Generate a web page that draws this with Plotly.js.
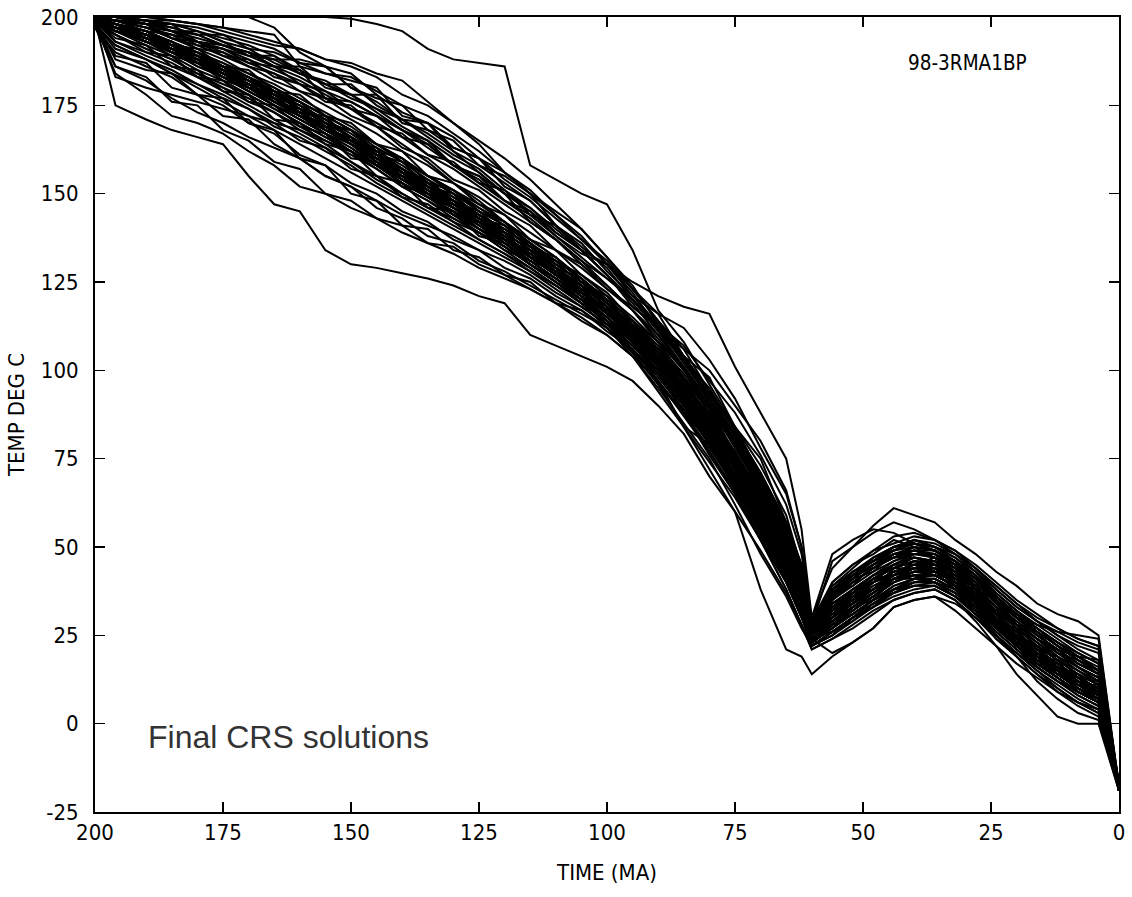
<!DOCTYPE html>
<html>
<head>
<meta charset="utf-8">
<script src="https://cdn.plot.ly/plotly-3.0.1.min.js"></script>
<style>html,body{margin:0;padding:0;background:#fff;}#chart{width:1132px;height:897px;}</style>
</head>
<body>
<div id="chart"></div>
<script>
// time grid (Ma)
const timeMa = [200,196,190,185,180,175,170,165,160,155,150,145,140,135,130,125,120,115,110,105,100,95,90,85,80,75,70,65,62,60,56,52,48,44,40,36,32,28,24,20,16,12,8,4,0];

// temperature paths (deg C)
const r01 = [200,198,195,193,189,186,183,178,175,171,166,162,157,153,148,144,139,134,129,124,118,112,104,96,86,75,63,49,38,26,33,37,41,44,46,45,42,37,31,26,21,17,13,10,-19];
const r02 = [199,196,193,190,186,183,179,175,171,167,163,158,154,149,145,141,136,131,126,121,115,109,101,92,82,71,59,45,34,24,29,33,37,41,43,43,40,35,29,24,19,15,11,8,-18];
const r03 = [198,197,195,191,189,184,182,176,174,168,166,159,156,150,148,141,139,132,129,122,118,110,104,93,85,72,62,46,37,25,32,34,40,42,45,43,42,35,31,24,21,15,13,8,-17];
const r04 = [200,197,194,192,187,185,180,178,172,170,164,161,154,152,146,143,137,134,127,124,116,112,102,95,83,74,60,48,35,26,30,36,38,43,44,45,40,37,29,26,19,17,12,10,-19];
const r05 = [199,198,195,192,188,185,181,177,173,169,165,161,156,151,147,142,137,132,127,122,117,111,104,95,85,73,61,47,37,25,31,35,40,43,45,44,41,36,30,25,20,16,12,9,-18];
const r06 = [200,199,197,194,191,188,184,181,177,173,169,164,159,155,150,146,141,136,131,126,120,114,106,98,88,77,65,51,39,27,35,39,43,46,48,47,43,38,32,27,22,18,14,11,-19];
const r07 = [198,195,191,188,184,181,178,174,170,166,162,157,152,148,144,139,135,130,125,120,114,108,99,90,80,69,57,43,33,23,28,32,36,40,42,42,39,34,28,23,18,14,10,7,-17];
const r08 = [199,196,194,190,188,183,181,176,173,168,164,160,155,150,147,142,138,132,128,122,117,110,103,93,84,72,60,46,36,25,30,35,38,42,44,43,40,36,29,24,20,15,12,8,-18];
const r09 = [200,198,196,193,190,186,182,179,175,171,167,162,158,153,149,144,140,135,130,125,119,113,105,97,87,76,63,50,38,26,34,38,42,45,47,46,42,37,31,26,21,17,13,10,-18];
const r10 = [199,197,193,191,187,184,180,177,172,169,164,160,155,151,146,142,137,133,127,123,116,110,102,93,83,72,60,46,35,24,30,34,38,42,44,44,40,35,30,24,19,16,11,9,-19];
const r11 = [200,199,198,196,194,192,189,186,183,179,176,172,168,163,158,153,148,143,137,131,124,117,109,100,90,79,67,53,40,28,38,42,46,49,51,49,45,40,34,28,23,19,15,12,-19];
const r12 = [200,200,199,198,197,195,193,191,187,186,180,177,175,168,163,160,152,148,141,134,127,118,112,103,92,81,68,55,42,27,40,45,48,52,50,49,46,41,35,30,25,21,17,14,-18];
const r13 = [200,200,200,200,200,200,200,200,200,200,199.5,198,196,191,188,187,186,158,154,150,147,134,117,108,96,84,70,56,41,26,36,41,47,50,52,50,47,43,37,32,27,23,19,15,-19];
const r14 = [200,200,200,200,200,200,200,197,190,186,184,178,173,170,162,156,150,142,137,130,124,117,110,101,91,80,69,54,40,27,37,43,46,48,49,47,44,39,33,28,24,20,16,13,-18];
const r15 = [199,199,198,196,195,192,190,186,185,177,176,172,168,164,158,155,148,145,138,133,130,125,121,118,116,101,88,75,55,30,44,50,56,61,59,57,52,48,43,39,34,31,29,25,-18];
const r16 = [198,192,188,184,180,176,172,168,164,160,156,152,148,144,140,136,132,128,123,118,113,107,100,91,81,70,58,44,33,23,27,31,35,38,40,40,37,32,27,22,17,13,9,6,-17];
const r17 = [197,190,186,183,178,175,170,167,161,158,153,150,145,142,137,134,129,126,121,117,111,106,98,89,79,67,55,41,31,22,26,29,34,37,39,39,36,31,25,20,15,11,7,4,-16];
const r18 = [199,175,171,168,166,164,155,147,145,134,130,129,127.5,126,124,121,119,110,107,104,101,97,90,82,70,60,38,21,19,14,19,23,27,33,35,36,32,27,22,17,13,9,6,4,-17];
const r19 = [199,186,182,177,173,170,166,163,160,155,152,148,144,141,138,134,131,127,122,118,113,106,97,84,74,64,52,38,28,21,24,28,32,35,37,38,35,29,22,14,8,2,0,0,-19];
const r20 = [198,184,178,172,170,167,162,158,152,150,146,143,139,136,133,129,126,123,119,115,110,104,95,85,75,62,48,36,27,22,26,30,33,36,38,39,36,31,26,21,16,12,9,6,-18];
const r21 = [199,193,189,186,183,180,176,173,168,164,159,155,150,146,143,139,134,129,124,119,114,105,96,88,76,65,52,40,30,24,28,31,35,38,41,41,38,32,24,19,12,7,3,1,-19];
const r22 = [200,198,196,192,189,186,183,179,176,172,168,163,159,154,150,145,141,136,131,127,121,115,108,100,92,82,70,57,45,28,36,40,44,47,49,48,44,39,33,28,24,21,19,18,-17];
const r23 = [200,197,195,193,189,186,182,179,174,171,166,162,157,153,148,144,140,135,129,124,119,113,106,98,89,79,67,53,42,27,34,38,42,46,48,48,45,41,36,31,28,26,25,24,-18];
const r24 = [199,196,192,189,185,182,178,174,170,166,162,158,153,149,145,140,135,130,125,120,113,105,96,84,79,68,55,41,32,24,29,33,37,41,43,42,39,34,28,23,19,14,10,7,-18];
const r25 = [200,199,196,195,191,190,186,184,179,177,172,169,163,160,154,151,145,141,134,130,123,117,108,101,89,80,66,54,40,28,37,41,45,47,47,46,43,39,33,29,25,21,16,13,-18];
const r26 = [200,200,199,198,196,194,192,189,185,181,178,173,168,165,158,154,148,144,138,132,126,120,111,103,93,84,70,55,42,28,38,43,46,49,51,50,47,42,36,31,26,22,18,15,-19];
const r27 = [199,193,190,187,183,179,175,171,167,163,159,154,150,146,142,137,133,128,124,119,114,108,101,92,82,70,58,44,33,23,28,32,36,40,42,42,39,33,27,22,18,13,9,6,-18];
const r28 = [199,197,194,191,188,184,181,177,173,169,165,160,156,151,147,143,138,133,128,123,117,111,103,94,84,73,61,47,36,25,31,35,39,42,44,44,41,36,30,25,20,16,12,9,-18];
const r29 = [200,198,195,192,189,186,182,178,174,170,166,161,157,152,148,144,139,134,129,124,118,112,104,95,85,74,62,48,37,26,32,37,41,44,46,45,42,37,31,26,21,17,13,10,-19];
const r30 = [199,196,193,190,187,183,180,176,172,168,164,159,154,150,146,141,137,132,127,122,116,110,102,93,83,72,60,46,35,24,30,34,38,41,43,43,40,35,29,24,19,15,11,8,-18];
const r31 = [200,198,196,193,190,187,184,180,176,172,168,164,160,155,151,146,142,137,132,126,120,114,106,97,87,76,64,50,40,30,48,52,55,54,51,49,46,42,37,32,28,24,20,17,-18];
const r32 = [199,196,194,190,187,184,180,176,172,168,164,160,155,151,146,142,137,132,127,122,116,110,102,93,82,70,58,44,34,24,20,23,27,33,35,36,34,30,25,20,16,12,9,6,-18];
const r33 = [200,200,198,197,195,192,190,188,184,182,178,174,171,166,161,157,151,146,140,134,127,119,110,100,90,78,66,52,40,27,35,40,44,47,49,48,44,40,34,29,24,20,16,13,-18];
const r34 = [200,199,199,196,196,193,189,189,184,181,181,175,171,170,163,160,156,150,145,140,132,124,113,103,95,83,71,57,44,29,37,39,45,47,50,47,45,38,35,28,26,20,18,14,-19];
const r35 = [199,194,192,186,185,179,178,171,170,164,162,155,153,146,145,138,136,130,126,120,117,108,103,91,83,69,60,43,33,23,27,33,35,41,41,43,38,35,27,24,17,15,9,7,-17];
const r36 = [198,189,187,180,178,172,171,164,160,155,152,146,143,138,136,131,128,124,120,116,112,105,99,88,80,66,56,40,30,22,25,30,33,38,39,40,36,32,26,21,16,12,8,5,-17];
const r37 = [200,196,195,190,189,184,183,177,175,169,168,161,159,152,150,143,141,134,131,124,120,112,106,95,88,74,65,48,39,25,33,35,41,42,46,44,43,36,32,25,22,16,14,9,-19];
const r38 = [199,198,194,193,187,186,180,179,173,172,165,163,156,154,148,145,139,136,129,126,119,113,104,98,85,77,62,51,37,27,30,37,38,44,44,46,40,38,29,27,19,18,11,11,-18];
const r39 = [200,199,197,195,193,190,187,184,181,177,174,170,166,161,157,152,147,142,137,131,126,120,113,107,97,88,76,62,48,29,38,42,47,49,52,50,48,43,38,33,29,25,22,20,-18];
const r40 = [200,200,200,199,198,197,195,193,191,188,186,183,178,175,170,165,160,154,147,140,132,123,114,106,94,84,73,59,44,28,39,44,49,51,53,52,48,44,38,33,29,26,23,21,-17];
const r41 = [198,191,188,184,181,177,174,169,166,162,158,153,149,145,141,137,133,129,124,119,114,107,99,90,79,67,54,41,31,22,26,30,34,38,40,41,38,33,27,22,17,13,9,6,-18];
const r42 = [197,186,183,176,175,168,165,159,157,150,148,143,141,136,135,130,127,123,119,114,110,104,97,87,77,65,52,38,28,21,24,27,31,35,37,38,35,30,24,19,14,10,6,3,-18];
const r43 = [199,197,194,191,188,184,181,177,173,169,165,161,156,152,148,143,139,134,129,124,118,111,101,88,77,66,53,40,30,23,27,32,36,40,43,43,40,35,29,23,18,14,10,6,-19];
const r44 = [200,198,196,193,190,187,183,180,176,172,168,164,160,155,151,147,142,137,132,126,120,114,107,99,90,79,66,52,40,28,46,50,54,57,55,52,49,44,39,34,29,25,21,18,-18];
const r45 = [199,197,194,191,188,185,181,177,173,169,165,160,156,152,147,143,138,133,128,123,117,111,103,94,84,72,59,45,35,24,26,30,34,37,40,40,38,33,28,23,18,14,11,7,-18];
const r46 = [200,199,198,194,193,189,188,183,181,176,175,169,167,161,159,153,151,144,141,134,130,121,116,104,98,84,75,57,45,28,36,42,44,48,49,49,45,41,36,30,27,22,19,15,-19];
const r47 = [199,183,180,178,176,174,172,170,168,165,162,158,154,150,146,142,137,132,127,122,116,110,102,92,81,69,56,42,33,23,29,33,37,41,43,43,40,34,28,22,17,13,9,6,-17];
const r48 = [199,188,185,184,178,177,170,168,160,158,150,148,141,140,134,132,127,125,119,117,112,106,99,90,79,68,55,42,31,22,26,30,35,38,41,41,38,33,27,22,16,12,8,5,-18];
const r49 = [200,198,196,192,191,186,185,179,178,172,170,164,162,155,153,147,144,137,134,127,122,114,108,98,90,76,66,50,40,26,34,37,42,44,47,45,43,38,33,27,23,18,15,11,-19];
const r50 = [199,196,193,189,187,182,180,175,172,167,164,158,155,149,146,140,137,131,128,121,117,109,103,92,84,70,61,45,36,24,29,34,37,42,43,44,39,36,28,25,18,16,10,8,-18];
const r51 = [200,200,200,199,198,197,196,195,186,184,182,180,172,170,166,160,154,149,143,137,130,123,114,104,94,83,71,57,43,28,38,43,46,50,51,50,46,42,36,31,27,23,19,16,-18];
const r52 = [200,200,199,199,198,196,194,192,191,188,187,184,182,176,170,164,156,150,144,137,131,123,116,112,103,92,78,65,50,29,40,45,49,53,54,52,49,45,40,35,31,27,24,22,-18];
const r53 = [199,195,191,188,184,180,177,173,169,165,161,157,152,148,143,139,135,130,125,120,115,108,100,91,80,68,56,43,33,23,27,31,35,39,41,42,39,34,28,23,18,14,10,7,-18];
const r54 = [200,197,194,191,188,185,181,177,173,169,165,161,156,152,147,143,138,133,128,123,117,111,103,94,85,74,62,49,38,26,32,36,41,45,48,48,45,41,36,31,27,23,20,17,-17];
const r55 = [199,197,194,191,188,184,181,177,173,169,165,160,155,151,147,142,138,133,128,123,117,111,103,94,84,73,61,47,36,25,30,34,38,41,42,40,37,31,25,19,14,9,5,2,-18];
const r56 = [200,199,197,196,192,191,187,186,181,179,174,172,166,164,158,155,150,145,139,134,127,120,112,104,94,81,70,55,43,28,35,41,43,48,48,48,43,40,34,30,25,21,17,14,-19];
const r57 = [198,192,188,185,181,178,174,170,165,163,157,155,149,147,142,139,134,131,126,121,116,109,101,92,82,70,58,44,34,23,28,31,35,39,41,40,37,33,27,22,17,13,9,6,-17];
const r58 = [199,197,194,191,188,184,180,176,172,168,164,159,155,150,146,142,137,132,127,121,114,106,97,88,78,67,54,41,31,24,28,33,37,41,44,44,41,36,30,25,20,16,12,9,-18];
const r59 = [200,199,198,196,193,191,188,185,182,178,174,169,164,159,153,148,142,136,130,125,119,112,104,96,86,75,63,49,38,26,33,38,42,45,47,46,43,38,32,27,22,18,14,11,-18];
const r60 = [199,197,195,192,188,185,182,178,174,170,166,161,157,152,148,143,139,134,129,124,118,112,105,96,86,75,62,48,37,25,31,36,40,43,45,45,42,37,31,26,21,17,13,10,-18];
const r61 = [200,200,199,197,195,195,191,190,187,184,183,179,175,172,167,162,156,151,144,138,130,122,112,102,92,80,68,53,41,27,36,41,45,48,50,49,45,40,35,30,25,21,17,14,-18];
const r62 = [200,200,198,198,193,192,190,186,186,180,178,178,170,168,165,158,155,150,141,135,129,120,111,101,91,79,67,52,40,27,35,40,44,47,48,47,44,39,33,28,24,19,16,12,-18];
const r63 = [200,199,197,195,193,191,189,188,188,186,180,176,171,167,162,158,153,148,141,136,128,121,113,104,94,83,70,56,43,28,37,42,46,50,51,49,46,41,36,31,26,22,18,15,-19];
const r64 = [199,195,190,189,183,182,176,175,169,167,160,159,152,150,144,142,136,134,128,124,118,111,103,93,83,70,58,44,34,23,28,33,36,41,42,42,39,34,28,23,18,14,10,7,-18];
const r65 = [200,198,195,192,189,185,182,178,174,170,166,162,157,153,149,144,140,135,130,125,119,113,105,96,87,75,63,49,38,26,33,37,41,44,46,46,42,37,32,27,22,18,14,11,-19];
const r66 = [199,196,193,190,187,183,179,175,171,167,162,158,153,149,145,140,136,131,126,121,115,108,100,91,81,69,57,44,34,24,29,33,37,41,43,43,40,35,29,24,19,15,11,8,-18];
const r67 = [200,199,197,194,192,189,186,182,179,175,171,167,162,158,153,149,144,139,134,129,123,118,112,106,100,90,80,66,50,29,39,43,47,50,52,51,48,44,39,34,30,27,24,22,-18];
const r68 = [199,196,193,190,186,183,179,175,171,167,163,158,153,149,144,140,135,130,125,119,112,104,94,84,72,60,49,37,28,22,25,29,33,37,39,39,36,31,25,20,15,10,6,3,-18];
const r69 = [200,197,196,191,190,185,183,178,176,170,168,162,160,153,151,145,142,135,132,125,121,113,107,97,89,76,65,50,39,26,32,38,40,45,45,47,41,39,31,28,21,19,13,12,-19];
const r70 = [200,200,199,198,196,193,191,187,184,181,177,174,169,165,160,156,150,146,139,134,127,120,112,103,93,82,69,55,42,28,37,42,45,49,50,49,46,41,35,30,26,22,18,15,-18];

const paths = [r01,r02,r03,r04,r05,r06,r07,r08,r09,r10,r11,r12,r13,r14,r15,r16,r17,r18,r19,r20,
               r21,r22,r23,r24,r25,r26,r27,r28,r29,r30,r31,r32,r33,r34,r35,r36,r37,r38,r39,r40,
               r41,r42,r43,r44,r45,r46,r47,r48,r49,r50,r51,r52,r53,r54,r55,r56,r57,r58,r59,r60,
               r61,r62,r63,r64,r65,r66,r67,r68,r69,r70];

const xTicks = [200,175,150,125,100,75,50,25,0];
const yTicks = [200,175,150,125,100,75,50,25,0,-25];
const yTickText = ['200','175','150','125','100','75','50','25','0','-25'];

const traces = paths.map(p => ({
  x: timeMa, y: p, type: 'scatter', mode: 'lines',
  line: {color: '#000000', width: 2}, hoverinfo: 'skip', showlegend: false
}));

const fontFam = '"DejaVu Sans Condensed", "DejaVu Sans", sans-serif';

const layout = {
  width: 1132, height: 897,
  margin: {l: 95, r: 13, t: 17, b: 85},
  paper_bgcolor: '#ffffff', plot_bgcolor: '#ffffff',
  showlegend: false,
  font: {family: fontFam, size: 22, color: '#000'},
  xaxis: {
    range: [200, 0], tickvals: xTicks, ticktext: xTicks.map(String),
    ticks: 'inside', ticklen: 10, tickwidth: 1.5, tickcolor: '#000',
    showline: true, linecolor: '#000', linewidth: 2, mirror: 'ticks',
    showgrid: false, zeroline: false,
    tickfont: {family: fontFam, size: 22, color: '#000'},
    title: {text: 'TIME (MA)', font: {family: fontFam, size: 22, color: '#000'}, standoff: 20}
  },
  yaxis: {
    range: [-25, 200], tickvals: yTicks, ticktext: yTickText,
    ticks: 'inside', ticklen: 10, tickwidth: 1.5, tickcolor: '#000',
    showline: true, linecolor: '#000', linewidth: 2, mirror: 'ticks',
    showgrid: false, zeroline: false,
    ticklabelstandoff: 10,
    tickfont: {family: fontFam, size: 22, color: '#000'},
    title: {text: 'TEMP DEG C', font: {family: fontFam, size: 22, color: '#000'}, standoff: 10}
  },
  annotations: [
    {text: '98-3RMA1BP', xref: 'paper', yref: 'paper', x: 0.8525, y: 0.942, showarrow: false,
     xanchor: 'center', yanchor: 'middle', font: {family: fontFam, size: 20.5, color: '#000'}},
    {text: 'Final CRS solutions', xref: 'paper', yref: 'paper', x: 0.1885, y: 0.0943, showarrow: false,
     xanchor: 'center', yanchor: 'middle', font: {family: '"Liberation Sans", Arial, sans-serif', size: 32, color: '#333333'}}
  ]
};

Plotly.newPlot('chart', traces, layout, {staticPlot: true, displayModeBar: false});
</script>
</body>
</html>
